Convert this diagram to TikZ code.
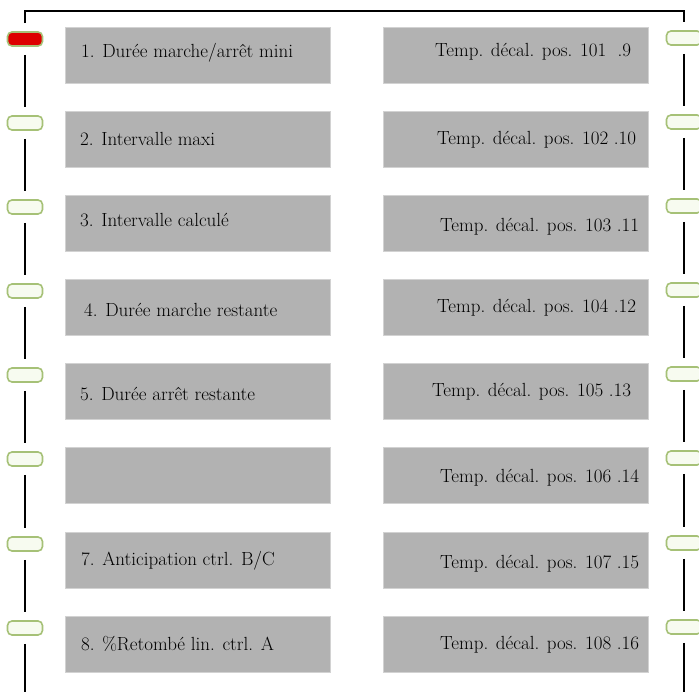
\documentclass[tikz,border=0pt]{standalone}
\definecolor{panel}{HTML}{B2B2B2}
\definecolor{panelrim}{HTML}{D2D2D2}
\definecolor{ledrim}{HTML}{A6C177}
\definecolor{ledoff}{HTML}{F7FBF0}
\definecolor{ledon}{HTML}{DD0000}
\begin{document}
\begin{tikzpicture}[x=1pt,y=-1pt,
  panelbox/.style={draw=panelrim, line width=0.8pt, fill=panel, inner sep=0pt,
    minimum width=265pt, minimum height=56pt, anchor=north west},
  led/.style={draw=ledrim, line width=1.6pt, fill=ledoff, rounded corners=4.5pt,
    minimum width=35pt, minimum height=14pt, inner sep=0pt},
  ledactive/.style={led, fill=ledon},
  rail/.style={draw=black, line width=1.5pt},
  gap/.style={shorten <=8pt, shorten >=8pt},
  lbl/.style={anchor=west, inner sep=0pt, text=black,
    font=\fontsize{19}{22}\selectfont}]
\useasboundingbox (0,0) rectangle (699,692);
\fill[white] (0,0) rectangle (699,692);

% panel pairs, one row per slot
\foreach \i/\t in {1/27,2/111,3/195,4/279,5/363,6/447,7/532,8/616}{
  \node[panelbox] (b\i) at (65,\t) {};
  \node[panelbox] (c\i) at (383,\t) {};
}

% status lamps on both rails
\node[ledactive] (L1) at (25,39) {};
\node[led] (L2) at (25,123) {};
\node[led] (L3) at (25,207) {};
\node[led] (L4) at (25,291) {};
\node[led] (L5) at (25,375) {};
\node[led] (L6) at (25,459) {};
\node[led] (L7) at (25,544) {};
\node[led] (L8) at (25,628) {};
\foreach \i/\y in {1/38,2/122,3/206,4/290,5/374,6/458,7/543,8/627}{
  \node[led] (R\i) at (684,\y) {};
}

% rail ends
\coordinate (topL) at (25,11);
\coordinate (topR) at (684,11);
\coordinate (botL) at (25,692);
\coordinate (botR) at (684,692);

% rails
\draw[rail, gap, line join=miter] (L1.north) -- (topL) -- (topR) -- (R1.north);
\foreach \a/\b in {1/2,2/3,3/4,4/5,5/6,6/7,7/8}{
  \draw[rail, gap] (L\a.south) -- (L\b.north);
  \draw[rail, gap] (R\a.south) -- (R\b.north);
}
\draw[rail, shorten <=8pt] (L8.south) -- (botL);
\draw[rail, shorten <=8pt] (R8.south) -- (botR);

% left column labels
\node[lbl] at ([xshift=16pt,yshift=3pt]b1.west) {1. Durée marche/arrêt mini};
\node[lbl] at ([xshift=15pt]b2.west) {2. Intervalle maxi};
\node[lbl] at ([xshift=15pt,yshift=3pt]b3.west) {3. Intervalle calculé};
\node[lbl] at ([xshift=19pt,yshift=-3pt]b4.west) {4. Durée marche restante};
\node[lbl] at ([xshift=15pt,yshift=-3pt]b5.west) {5. Durée arrêt restante};
\node[lbl] at ([xshift=16pt]b7.west) {7. Anticipation ctrl. B/C};
\node[lbl] at ([xshift=16pt]b8.west) {8. \%Retombé lin. ctrl. A};

% right column labels
\node[lbl] at ([xshift=52pt,yshift=4pt]c1.west) {Temp. décal. pos. 101\ \ .9};
\node[lbl] at ([xshift=54pt]c2.west) {Temp. décal. pos. 102 .10};
\node[lbl] at ([xshift=57pt,yshift=-3pt]c3.west) {Temp. décal. pos. 103 .11};
\node[lbl] at ([xshift=54pt]c4.west) {Temp. décal. pos. 104 .12};
\node[lbl] at ([xshift=49pt]c5.west) {Temp. décal. pos. 105 .13};
\node[lbl] at ([xshift=57pt,yshift=-2pt]c6.west) {Temp. décal. pos. 106 .14};
\node[lbl] at ([xshift=57pt,yshift=-3pt]c7.west) {Temp. décal. pos. 107 .15};
\node[lbl] at ([xshift=57pt]c8.west) {Temp. décal. pos. 108 .16};
\end{tikzpicture}
\end{document}
